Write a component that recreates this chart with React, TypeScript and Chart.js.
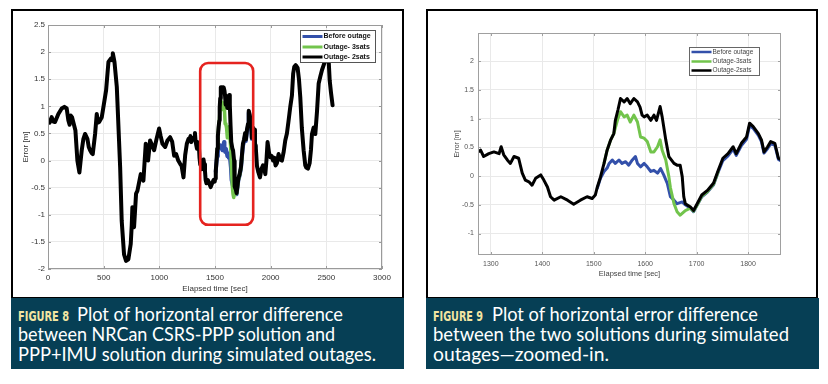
import React, { useEffect, useLayoutEffect, useRef } from "react";
import { Chart, registerables } from "chart.js";

Chart.register(...registerables);

// ---------- data (elapsed time [sec], error [m]) ----------
const blackTime = [
  0, 15, 33, 48, 63, 93, 123, 147, 168, 183, 194, 204, 216, 228, 246, 264, 282, 303, 318, 333,
  354, 366, 378, 392, 402, 423, 438, 449, 459, 483, 498, 522, 543, 564, 575, 582, 597, 618, 648, 662,
  683, 701, 722, 743, 752, 758, 773, 791, 803, 833, 857, 878, 899, 917, 935, 953, 975, 998, 1012, 1028,
  1052, 1073, 1097, 1115, 1133, 1151, 1170, 1187, 1200, 1217, 1232, 1247, 1262, 1275, 1280, 1286, 1296, 1306, 1316, 1320,
  1325, 1332, 1338, 1345, 1354, 1361, 1367, 1374, 1380, 1387, 1397, 1403, 1410, 1416, 1423, 1436, 1449, 1461, 1474, 1487,
  1497, 1503, 1507, 1513, 1520, 1526, 1533, 1539, 1542, 1547, 1552, 1559, 1565, 1571, 1578, 1585, 1590, 1594, 1598, 1604,
  1611, 1617, 1622, 1629, 1633, 1640, 1646, 1656, 1662, 1668, 1672, 1675, 1678, 1688, 1694, 1700, 1710, 1721, 1733, 1742,
  1751, 1761, 1771, 1777, 1787, 1797, 1803, 1810, 1820, 1826, 1831, 1838, 1844, 1852, 1859, 1865, 1877, 1890, 1904, 1918,
  1931, 1942, 1952, 1962, 1972, 1985, 1997, 2010, 2021, 2033, 2044, 2056, 2071, 2086, 2101, 2116, 2131, 2146, 2161, 2176,
  2191, 2202, 2212, 2225, 2242, 2254, 2266, 2280, 2296, 2311, 2320, 2335, 2350, 2362, 2371, 2386, 2401, 2416, 2431, 2446,
  2461, 2476, 2491, 2505, 2514, 2522, 2530, 2542, 2556,
];
const blackError = [
  0.74, 0.7, 0.8, 0.72, 0.71, 0.86, 0.96, 0.99, 0.96, 0.74, 0.66, 0.83, 0.8, 0.7, 0.56, 0.0, -0.22, 0.19, 0.4, 0.49,
  0.4, 0.25, 0.19, 0.14, 0.12, 0.49, 0.86, 0.7, 0.71, 0.8, 0.99, 1.3, 1.82, 1.88, 1.85, 1.98, 1.82, 1.36, -0.12, -1.11,
  -1.73, -1.85, -1.82, -1.54, -1.2, -0.86, -1.23, -0.61, -0.56, -0.25, -0.37, 0.31, 0.0, 0.37, 0.28, 0.19, 0.4, 0.59, 0.45, 0.31,
  0.25, 0.37, 0.43, 0.35, 0.09, 0.12, 0.0, -0.06, -0.1, -0.31, 0.1, 0.31, 0.4, 0.42, 0.45, 0.34, 0.39, 0.42, 0.39, 0.51,
  0.37, 0.28, 0.22, 0.34, 0.31, 0.05, -0.07, -0.1, -0.16, -0.04, 0.02, -0.07, -0.19, -0.36, -0.42, -0.36, -0.42, -0.49, -0.42, -0.36,
  -0.39, -0.33, -0.19, -0.02, 0.22, 0.45, 0.63, 0.74, 0.97, 1.15, 1.35, 1.29, 1.35, 1.26, 1.35, 1.29, 1.2, 1.06, 1.03, 1.06,
  0.97, 1.06, 0.97, 1.21, 1.03, 0.63, 0.34, 0.22, 0.19, 0.19, -0.01, -0.36, -0.48, -0.54, -0.6, -0.5, -0.33, -0.25, -0.12, 0.1,
  0.31, 0.39, 0.51, 0.39, 0.57, 0.68, 0.92, 0.86, 0.74, 0.63, 0.42, 0.51, 0.6, 0.57, 0.31, 0.28, -0.1, -0.22, -0.31, -0.15,
  -0.09, -0.15, -0.25, 0.0, 0.34, 0.15, 0.06, 0.08, 0.0, 0.05, -0.09, -0.05, 0.12, 0.02, 0.0, 0.15, 0.37, 0.5, 0.74, 0.99,
  1.2, 1.6, 1.73, 1.76, 1.71, 1.5, 1.17, 0.6, 0.19, -0.09, -0.13, -0.15, -0.05, 0.2, 0.49, 0.61, 0.49, 0.9, 1.42, 1.55,
  1.67, 1.76, 1.85, 1.93, 1.96, 1.8, 1.48, 1.25, 1.02,
];

const blueTime = [
  1507, 1513, 1520, 1526, 1530, 1536, 1542, 1549, 1555, 1562, 1568, 1575, 1581, 1585, 1591, 1598, 1604, 1611, 1617, 1624,
  1630, 1636, 1643, 1649, 1656, 1662, 1672, 1678, 1688, 1694, 1700, 1710, 1721, 1733, 1742, 1751, 1761, 1771, 1777, 1787,
  1797, 1803, 1810, 1820, 1826, 1831, 1838, 1844, 1852, 1859, 1865,
];
const blueError = [
  -0.21, -0.04, 0.08, 0.14, 0.22, 0.28, 0.22, 0.28, 0.22, 0.25, 0.19, 0.28, 0.34, 0.22, 0.16, 0.22, 0.16, 0.08, 0.1, 0.05,
  0.13, 0.02, -0.13, -0.36, -0.42, -0.48, -0.45, -0.5, -0.56, -0.62, -0.52, -0.36, -0.28, -0.15, 0.07, 0.27, 0.35, 0.47, 0.36, 0.53,
  0.64, 0.88, 0.83, 0.71, 0.6, 0.4, 0.48, 0.56, 0.54, 0.29, 0.26,
];

const greenTime = [
  1520, 1526, 1533, 1539, 1547, 1552, 1559, 1565, 1571, 1578, 1585, 1591, 1598, 1604, 1611, 1617, 1624, 1629, 1633, 1640,
  1646, 1649, 1656, 1662, 1668, 1678, 1688, 1694, 1700, 1710, 1721, 1733, 1742,
];
const greenError = [
  0.22, 0.45, 0.63, 0.74, 1.0, 1.12, 1.03, 1.06, 0.94, 1.06, 0.94, 0.68, 0.66, 0.6, 0.42, 0.42, 0.51, 0.63, 0.45, 0.28,
  -0.01, -0.2, -0.48, -0.62, -0.68, -0.6, -0.56, -0.61, -0.52, -0.35, -0.27, -0.14, 0.08,
];

const overviewLabels = ["Before outage", "Outage- 3sats", "Outage- 2sats"];
const zoomLabels = ["Before outage", "Outage-3sats", "Outage-2sats"];

const overviewXTicks = [0, 500, 1000, 1500, 2000, 2500, 3000];
const overviewYTicks = [-2, -1.5, -1, -0.5, 0, 0.5, 1, 1.5, 2, 2.5];
const zoomXTicks = [1300, 1400, 1500, 1600, 1700, 1800];
const zoomYTicks = [-1, -0.5, 0, 0.5, 1, 1.5, 2];

// outage window highlighted on the overview plot (data units)
const outageWindow = { t0: 1367, t1: 1843, v0: -1.185, v1: 1.8 };

const BLUE = "#3350aa";
const GREEN = "#72c44c";
const BLACK = "#000000";
const TICK_FONT = "'Liberation Sans', Arial, sans-serif";

// ---------- plugin: frame, inward ticks, outage box, legend ----------
const decorPlugin = {
  id: "decor",
  afterDatasetsDraw(chart: any, _args: any, opts: any) {
    const { ctx, chartArea: a, scales } = chart;
    const xs = scales.x;
    const ys = scales.y;
    ctx.save();

    if (opts.box && opts.box.show) {
      const b = opts.box;
      const x0 = xs.getPixelForValue(b.t0);
      const x1 = xs.getPixelForValue(b.t1);
      const y0 = ys.getPixelForValue(b.v1);
      const y1 = ys.getPixelForValue(b.v0);
      ctx.strokeStyle = b.color;
      ctx.lineWidth = b.width;
      ctx.beginPath();
      ctx.roundRect(x0, y0, x1 - x0, y1 - y0, b.radius);
      ctx.stroke();
    }

    ctx.strokeStyle = opts.frameColor;
    ctx.lineWidth = 1;
    ctx.strokeRect(a.left + 0.5, a.top + 0.5, a.right - a.left - 1, a.bottom - a.top - 1);

    const L = opts.tickLen;
    ctx.beginPath();
    xs.ticks.forEach((t: any) => {
      const px = Math.round(xs.getPixelForValue(t.value)) + 0.5;
      ctx.moveTo(px, a.bottom);
      ctx.lineTo(px, a.bottom - L);
      ctx.moveTo(px, a.top);
      ctx.lineTo(px, a.top + L);
    });
    ys.ticks.forEach((t: any) => {
      const py = Math.round(ys.getPixelForValue(t.value)) + 0.5;
      ctx.moveTo(a.left, py);
      ctx.lineTo(a.left + L, py);
      ctx.moveTo(a.right, py);
      ctx.lineTo(a.right - L, py);
    });
    ctx.stroke();

    const lg = opts.legend;
    const bx = Math.round(a.right - lg.right - lg.width) + 0.5;
    const by = Math.round(a.top + lg.top) + 0.5;
    ctx.fillStyle = "#ffffff";
    ctx.fillRect(bx, by, lg.width, lg.height);
    ctx.strokeStyle = lg.borderColor;
    ctx.lineWidth = 1;
    ctx.strokeRect(bx, by, lg.width, lg.height);
    ctx.font = lg.font;
    ctx.textBaseline = "middle";
    ctx.textAlign = "left";
    chart.data.datasets.forEach((ds: any, i: number) => {
      const ry = by + lg.rows[i];
      ctx.strokeStyle = ds.borderColor;
      ctx.lineWidth = lg.lineWidth;
      ctx.beginPath();
      ctx.moveTo(bx + lg.sampleX, ry);
      ctx.lineTo(bx + lg.sampleX + lg.sampleLen, ry);
      ctx.stroke();
      ctx.fillStyle = lg.textColor;
      ctx.fillText(ds.label, bx + lg.textX, ry);
    });

    ctx.restore();
  },
};

function makeDatasets(labels: string[], widths: number[]) {
  const base = { pointRadius: 0, tension: 0, fill: false, borderJoinStyle: "round", borderCapStyle: "round" };
  return [
    { ...base, label: labels[0], data: blueTime.map((t, i) => ({ x: t, y: blueError[i] })), borderColor: BLUE, borderWidth: widths[0], order: 3 },
    { ...base, label: labels[1], data: greenTime.map((t, i) => ({ x: t, y: greenError[i] })), borderColor: GREEN, borderWidth: widths[1], order: 2 },
    { ...base, label: labels[2], data: blackTime.map((t, i) => ({ x: t, y: blackError[i] })), borderColor: BLACK, borderWidth: widths[2], order: 1 },
  ];
}

function axis(p: any) {
  return {
    type: "linear",
    min: p.min,
    max: p.max,
    afterBuildTicks: (s: any) => {
      s.ticks = p.ticks.map((v: number) => ({ value: v }));
    },
    afterFit: (s: any) => {
      if (p.height !== undefined) s.height = p.height;
      if (p.width !== undefined) s.width = p.width;
    },
    grid: { color: "#e9e9e9", lineWidth: 1, drawTicks: false },
    border: { display: false },
    ticks: {
      padding: p.tickPad,
      autoSkip: false,
      maxRotation: 0,
      color: p.tickColor,
      font: { size: p.tickSize, family: TICK_FONT },
      callback: (v: any) => String(v),
    },
    title: {
      display: true,
      text: p.title,
      color: p.titleColor,
      font: { size: p.titleSize, family: TICK_FONT },
      padding: p.titlePad,
    },
  };
}

function overviewConfig(): any {
  return {
    type: "line",
    data: { datasets: makeDatasets(overviewLabels, [4, 3.5, 4]) },
    options: {
      responsive: false,
      animation: false,
      events: [],
      layout: { padding: { top: 14, right: 20, left: 0, bottom: 0 } },
      plugins: {
        legend: { display: false },
        tooltip: { enabled: false },
        decor: {
          frameColor: "#9a9a9a",
          tickLen: 3,
          box: { show: true, ...outageWindow, color: "#e5231f", width: 2.6, radius: 8 },
          legend: {
            right: 7, top: 5, width: 75, height: 32, rows: [6, 16.5, 26.5],
            sampleX: 2, sampleLen: 20, textX: 23, lineWidth: 3,
            font: `bold 7px ${TICK_FONT}`, textColor: "#111", borderColor: "#555",
          },
        },
      },
      scales: {
        x: axis({ min: 0, max: 3000, ticks: overviewXTicks, height: 29, tickPad: 4, tickColor: "#333", tickSize: 8, title: "Elapsed time [sec]", titleColor: "#333", titleSize: 8, titlePad: { top: 0, bottom: 4 } }),
        y: axis({ min: -2, max: 2.5, ticks: overviewYTicks, width: 35, tickPad: 3, tickColor: "#333", tickSize: 8, title: "Error [m]", titleColor: "#333", titleSize: 8, titlePad: { top: 8, bottom: 0 } }),
      },
    },
    plugins: [decorPlugin],
  };
}

function zoomConfig(): any {
  return {
    type: "line",
    data: { datasets: makeDatasets(zoomLabels, [3, 3, 3]) },
    options: {
      responsive: false,
      animation: false,
      events: [],
      layout: { padding: { top: 22, right: 35, left: 0, bottom: 0 } },
      plugins: {
        legend: { display: false },
        tooltip: { enabled: false },
        decor: {
          frameColor: "#a0a0a0",
          tickLen: 3,
          box: { show: false },
          legend: {
            right: 22, top: 14, width: 70, height: 28, rows: [4.5, 14, 23],
            sampleX: 2, sampleLen: 20, textX: 23, lineWidth: 2.5,
            font: `6.5px ${TICK_FONT}`, textColor: "#444", borderColor: "#666",
          },
        },
      },
      scales: {
        x: axis({ min: 1275, max: 1864, ticks: zoomXTicks, height: 43, tickPad: 4.5, tickColor: "#555", tickSize: 7, title: "Elapsed time [sec]", titleColor: "#444", titleSize: 7.5, titlePad: { top: 0, bottom: 19.5 } }),
        y: axis({ min: -1.374, max: 2.49, ticks: zoomYTicks, width: 50, tickPad: 4, tickColor: "#555", tickSize: 7, title: "Error [m]", titleColor: "#444", titleSize: 7, titlePad: { top: 24.5, bottom: 0 } }),
      },
    },
    plugins: [decorPlugin],
  };
}

function PlotCanvas(props: { make: () => any; left: number; top: number; width: number; height: number }) {
  const ref = useRef<HTMLCanvasElement>(null);
  useEffect(() => {
    const chart = new Chart(ref.current as HTMLCanvasElement, props.make());
    return () => chart.destroy();
  }, []);
  return (
    <canvas
      ref={ref}
      width={props.width}
      height={props.height}
      style={{ position: "absolute", left: props.left, top: props.top, width: props.width, height: props.height, display: "block" }}
    />
  );
}

const CAPTION_FONT = "Lato, 'Open Sans', sans-serif";
const FIG_FONT = "'Liberation Sans Narrow', 'DejaVu Sans Condensed', 'Liberation Sans', sans-serif";

// text squeezed horizontally to the printed width of the original caption line
function FitText(props: { text: string; width: number; style: React.CSSProperties }) {
  const ref = useRef<HTMLSpanElement>(null);
  useLayoutEffect(() => {
    const fit = () => {
      const el = ref.current;
      if (!el) return;
      el.style.transform = "none";
      const w = el.getBoundingClientRect().width;
      if (w > 0) el.style.transform = `scaleX(${props.width / w})`;
    };
    fit();
    if ((document as any).fonts && (document as any).fonts.ready) (document as any).fonts.ready.then(fit);
  }, []);
  return (
    <span ref={ref} style={{ position: "absolute", whiteSpace: "nowrap", display: "inline-block", transformOrigin: "0 0", ...props.style }}>
      {props.text}
    </span>
  );
}

function Caption(props: { left: number; width: number; label: string; labelW: number; lines: string[]; widths: number[]; firstX: number }) {
  const textStyle: React.CSSProperties = {
    color: "#ffffff",
    fontFamily: CAPTION_FONT,
    fontSize: 18.5,
    lineHeight: "20px",
  };
  return (
    <div style={{ position: "absolute", left: props.left, top: 298, width: props.width, height: 71, background: "#063f55" }}>
      <FitText
        text={props.label}
        width={props.labelW}
        style={{ left: 7, top: 8, color: "#f3e5a2", fontFamily: FIG_FONT, fontWeight: "bold", fontSize: 14.5, lineHeight: "20px" }}
      />
      <FitText text={props.lines[0]} width={props.widths[0]} style={{ ...textStyle, left: props.firstX, top: 6 }} />
      <FitText text={props.lines[1]} width={props.widths[1]} style={{ ...textStyle, left: 7, top: 26 }} />
      <FitText text={props.lines[2]} width={props.widths[2]} style={{ ...textStyle, left: 7, top: 46 }} />
    </div>
  );
}

export default function App() {
  return (
    <div style={{ position: "fixed", left: 0, top: 0, width: 828, height: 384, background: "#ffffff", overflow: "hidden" }}>
      <div style={{ position: "absolute", left: 11, top: 9, width: 393, height: 290, border: "2px solid #000", boxSizing: "border-box" }} />
      <PlotCanvas make={overviewConfig} left={13} top={11} width={389} height={287} />
      <Caption
        left={11}
        width={393}
        label="FIGURE 8"
        labelW={51}
        firstX={66}
        lines={[
          "Plot of horizontal error difference",
          "between NRCan CSRS-PPP solution and",
          "PPP+IMU solution during simulated outages.",
        ]}
        widths={[266, 317, 358]}
      />
      <div style={{ position: "absolute", left: 426, top: 9, width: 392, height: 290, border: "2px solid #000", boxSizing: "border-box" }} />
      <PlotCanvas make={zoomConfig} left={428} top={11} width={388} height={287} />
      <Caption
        left={426}
        width={393}
        label="FIGURE 9"
        labelW={50}
        firstX={66}
        lines={[
          "Plot of horizontal error difference",
          "between the two solutions during simulated",
          "outages\u2014zoomed-in.",
        ]}
        widths={[266, 356, 176]}
      />
    </div>
  );
}
